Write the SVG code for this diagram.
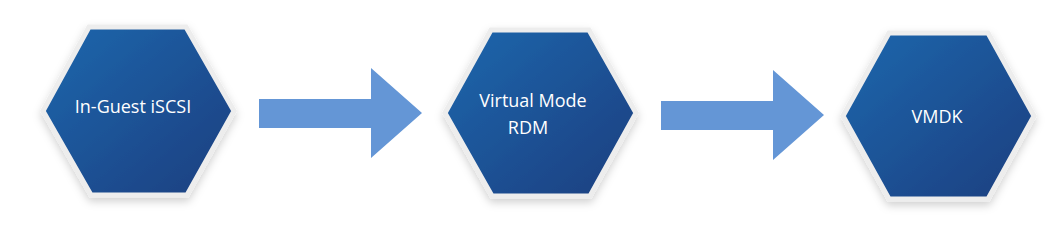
<svg xmlns="http://www.w3.org/2000/svg" width="1053" height="246" viewBox="0 0 1053 246">
<defs>
<linearGradient id="hexfill" x1="0" y1="0" x2="1" y2="1">
<stop offset="0" stop-color="#1f67ad"/>
<stop offset="1" stop-color="#1a3e7f"/>
</linearGradient>
<filter id="sh" x="-20%" y="-20%" width="140%" height="150%">
<feDropShadow dx="0" dy="4" stdDeviation="4" flood-color="#000" flood-opacity="0.18"/>
</filter>
</defs>
<style>
.hex{fill:url(#hexfill);stroke:#ededed;stroke-width:5;stroke-linejoin:miter;filter:url(#sh)}
.lbl{fill:#ffffff;font-family:"Open Sans","Liberation Sans",sans-serif;font-size:18px}
.arr{fill:#6496d6}
</style>
<rect width="1053" height="246" fill="#ffffff"/>
<g id="node-iscsi">
<polygon class="hex" points="89,27 186,27 234,111 187,195 91,195 43,111"/>
<text class="lbl" x="133" y="113" text-anchor="middle">In-Guest iSCSI</text>
</g>
<g id="node-rdm">
<polygon class="hex" points="491,30 589,30 636,113 590,196 492,196 445,113"/>
<text class="lbl" x="533" y="107" text-anchor="middle">Virtual Mode</text>
<text class="lbl" x="528" y="134" text-anchor="middle">RDM</text>
</g>
<g id="node-vmdk">
<polygon class="hex" points="889,33 988,33 1034,116 988,199 889,199 843,116"/>
<text class="lbl" x="937" y="123" text-anchor="middle">VMDK</text>
</g>
<g id="connectors">
<polygon class="arr" points="259,99 371,99 371,68 422,113 371,158 371,128 259,128"/>
<polygon class="arr" points="661,101 773,101 773,70 824,115 773,160 773,130 661,130"/>
</g>
</svg>
